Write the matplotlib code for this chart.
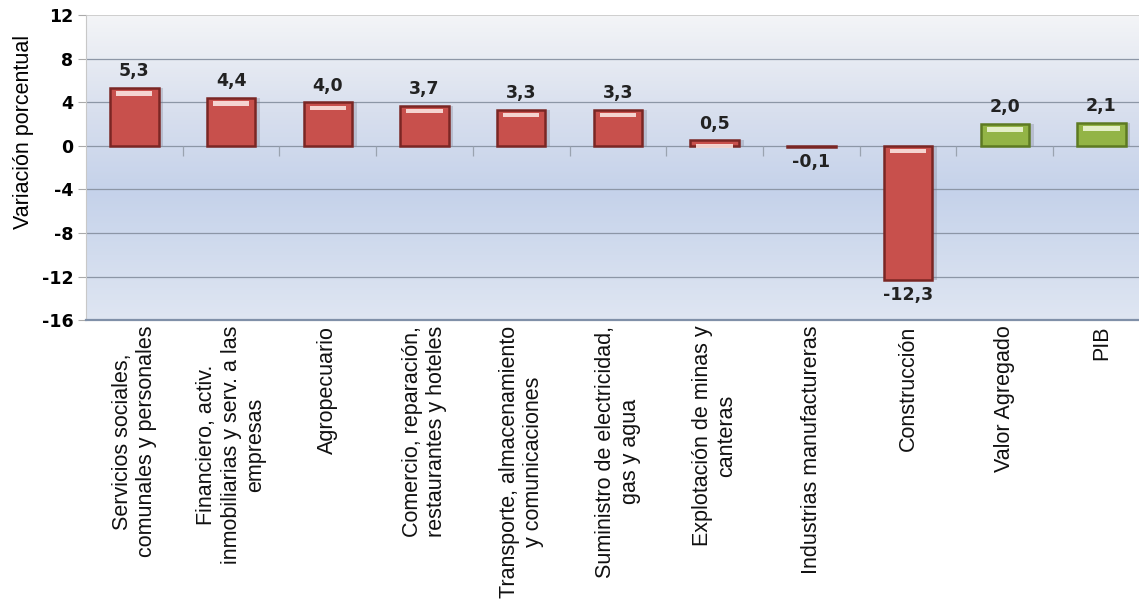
import matplotlib.pyplot as plt
import numpy as np
from matplotlib.colors import LinearSegmentedColormap

categorias = [
    "Servicios sociales,\ncomunales y personales",
    "Financiero, activ.\ninmobiliarias y serv. a las\nempresas",
    "Agropecuario",
    "Comercio, reparación,\nrestaurantes y hoteles",
    "Transporte, almacenamiento\ny comunicaciones",
    "Suministro de electricidad,\ngas y agua",
    "Explotación de minas y\ncanteras",
    "Industrias manufactureras",
    "Construcción",
    "Valor Agregado",
    "PIB",
]
valores = [5.3, 4.4, 4.0, 3.7, 3.3, 3.3, 0.5, -0.1, -12.3, 2.0, 2.1]
etiquetas = ["5,3", "4,4", "4,0", "3,7", "3,3", "3,3", "0,5", "-0,1", "-12,3", "2,0", "2,1"]
y_ticks = [12, 8, 4, 0, -4, -8, -12, -16]

plt.rcParams['font.family'] = ['Liberation Sans', 'DejaVu Sans']

fig = plt.figure(figsize=(11.39, 6.04), dpi=100)
ax = fig.add_axes([0.0755, 0.470, 0.934, 0.505])

x = np.arange(len(valores))
ax.set_xlim(-0.5, len(valores) - 0.5)
ax.set_ylim(-16, 12)

# fondo degradado
cmap = LinearSegmentedColormap.from_list("fondo", [
    (0.0, "#dfe6f2"), (0.42, "#c5d2ea"), (0.68, "#d8dfee"), (1.0, "#f4f5f7")])
grad = np.linspace(0, 1, 256).reshape(-1, 1)
ax.imshow(grad, aspect="auto", cmap=cmap, origin="lower",
          extent=[-0.5, len(valores) - 0.5, -16, 12], zorder=0)

for t in y_ticks[1:]:
    ax.axhline(t, color="#8c96a6", linewidth=0.9, zorder=1)
ax.axhline(12, color="#c8c8c8", linewidth=1.2, zorder=1)

# marcas entre categorias sobre la linea de cero
ax.vlines(x[:-1] + 0.5, -0.9, 0, color="#9aa3b0", linewidth=0.9, zorder=1)

colores = ["#c8504c"] * 9 + ["#93b446"] * 2
bordes = ["#7a2624"] * 9 + ["#5d7a22"] * 2
claros = ["#fbe3df"] * 9 + ["#eef6d6"] * 2

ancho = 0.5
# sombra
ax.bar(x + 0.05, valores, width=ancho, color="#7a7a8c", alpha=0.3, zorder=2)
ax.bar(x, valores, width=ancho, color=colores, edgecolor=bordes, linewidth=1.8, zorder=3)
# brillo superior
for xi, v, c in zip(x, valores, claros):
    if abs(v) >= 0.5:
        top = v - 0.3 if v > 0 else -0.25
        ax.bar(xi, -0.4, bottom=top, width=ancho * 0.75, color=c, alpha=0.9, zorder=4)

for xi, v, lab in zip(x, valores, etiquetas):
    if v >= 0:
        ax.text(xi, v + 0.7, lab, ha="center", va="bottom", fontsize=12.5,
                fontweight="bold", color="#222222", family="DejaVu Sans", zorder=5)
    else:
        ax.text(xi, v - 0.6, lab, ha="center", va="top", fontsize=12.5,
                fontweight="bold", color="#222222", family="DejaVu Sans", zorder=5)

ax.set_yticks(y_ticks)
ax.set_yticklabels([str(t) for t in y_ticks], fontsize=12.5, fontweight="bold",
                   family="DejaVu Sans")
ax.set_xticks(x)
ax.set_xticklabels(categorias, rotation=90, fontsize=15.5, ha="center", va="top",
                   multialignment="center", color="#111111")
ax.tick_params(axis="x", length=0, pad=4)
ax.tick_params(axis="y", length=6, color="#aaaaaa", pad=3)
ax.set_ylabel("Variación porcentual", fontsize=15.5)
ax.yaxis.set_label_coords(-0.049, 0.616)

for s in ["top", "right"]:
    ax.spines[s].set_visible(False)
ax.spines["left"].set_color("#c8c8c8")
ax.spines["bottom"].set_color("#8090a8")
ax.spines["bottom"].set_linewidth(1.6)

plt.savefig("out.png", dpi=100)
plt.close()
